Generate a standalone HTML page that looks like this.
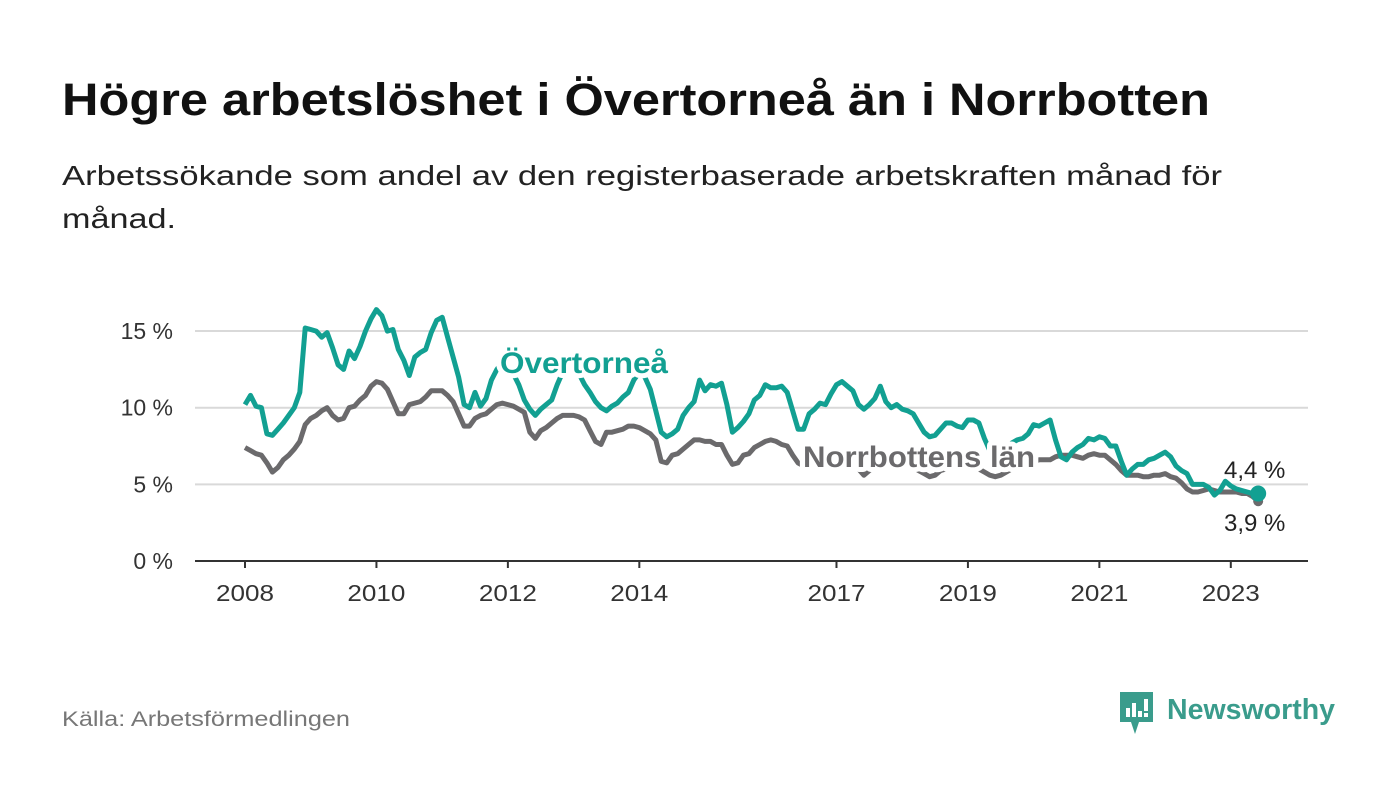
<!DOCTYPE html>
<html><head><meta charset="utf-8"><style>
body{margin:0;background:#fff}
svg text{font-family:"Liberation Sans","DejaVu Sans",sans-serif}
</style></head><body>
<svg id="chart" width="1400" height="794" viewBox="0 0 1400 794" xmlns="http://www.w3.org/2000/svg">
<rect width="1400" height="794" fill="#fff"/>
<text x="62" y="115" font-size="45" font-weight="bold" fill="#111" textLength="1148" lengthAdjust="spacingAndGlyphs">Högre arbetslöshet i Övertorneå än i Norrbotten</text>
<text x="62" y="185" font-size="28" fill="#222" textLength="1160" lengthAdjust="spacingAndGlyphs">Arbetssökande som andel av den registerbaserade arbetskraften månad för</text>
<text x="62" y="228" font-size="28" fill="#222" textLength="114" lengthAdjust="spacingAndGlyphs">månad.</text>
<g id="grid"></g>
<g id="xaxis"></g>
<g id="series"></g>
<g id="labels"></g>
<text x="62" y="726" font-size="21" fill="#777" textLength="288" lengthAdjust="spacingAndGlyphs">Källa: Arbetsförmedlingen</text>
<g>
<path d="M1120 692 h33 v30 h-14 l-4 12 l-4 -12 h-11 z" fill="#3a9c8c"/>
<rect x="1126" y="708" width="4" height="9" fill="#fff"/><rect x="1132" y="703" width="4" height="14" fill="#fff"/><rect x="1138" y="711" width="4" height="6" fill="#fff"/><rect x="1144" y="699" width="4" height="12" fill="#fff"/><rect x="1144" y="713" width="4" height="4" fill="#fff"/>
<text x="1167" y="719" font-size="29" font-weight="bold" fill="#3a9c8c" textLength="168" lengthAdjust="spacingAndGlyphs">Newsworthy</text>
</g>
</svg>
<script>
const years = [2008,2010,2012,2014,2017,2019,2021,2023];
const yTicks = [0,5,10,15];
const tickLabels = ["0 %","5 %","10 %","15 %"];
const overtornea = [
10.2,10.8,10.1,10.0,8.3,8.2,8.6,9.0,9.5,10.0,11.0,15.2,
15.1,15.0,14.6,14.9,13.9,12.8,12.5,13.7,13.2,14.0,15.0,15.8,
16.4,16.0,15.0,15.1,13.8,13.1,12.1,13.3,13.6,13.8,14.9,15.7,
15.9,14.6,13.3,12.0,10.2,10.0,11.0,10.1,10.6,11.8,12.5,13.0,
12.8,12.2,11.5,10.5,9.9,9.5,9.9,10.2,10.5,11.5,12.3,12.8,
12.6,12.2,11.5,11.0,10.4,10.0,9.8,10.1,10.3,10.7,11.0,11.8,
12.3,12.0,11.2,9.8,8.4,8.1,8.3,8.6,9.5,10.0,10.4,11.8,
11.1,11.5,11.4,11.6,10.2,8.4,8.7,9.1,9.6,10.5,10.8,11.5,
11.3,11.3,11.4,11.0,9.8,8.6,8.6,9.6,9.9,10.3,10.2,10.9,
11.5,11.7,11.4,11.1,10.2,9.9,10.2,10.6,11.4,10.4,10.0,10.2,
9.9,9.8,9.6,9.0,8.4,8.1,8.2,8.6,9.0,9.0,8.8,8.7,
9.2,9.2,9.0,8.0,7.2,6.9,7.0,7.3,7.7,7.9,8.0,8.3,
8.9,8.8,9.0,9.2,7.9,6.8,6.6,7.1,7.4,7.6,8.0,7.9,
8.1,8.0,7.5,7.5,6.5,5.6,6.0,6.3,6.3,6.6,6.7,6.9,
7.1,6.8,6.2,5.9,5.7,5.0,5.0,5.0,4.8,4.3,4.6,5.2,
4.9,4.7,4.6,4.5,4.4,4.4];
const norrbotten = [
7.4,7.2,7.0,6.9,6.4,5.8,6.1,6.6,6.9,7.3,7.8,8.9,
9.3,9.5,9.8,10.0,9.5,9.2,9.3,10.0,10.1,10.5,10.8,11.4,
11.7,11.6,11.2,10.4,9.6,9.6,10.2,10.3,10.4,10.7,11.1,11.1,
11.1,10.8,10.4,9.6,8.8,8.8,9.3,9.5,9.6,9.9,10.2,10.3,
10.2,10.1,9.9,9.7,8.4,8.0,8.5,8.7,9.0,9.3,9.5,9.5,
9.5,9.4,9.2,8.5,7.8,7.6,8.4,8.4,8.5,8.6,8.8,8.8,
8.7,8.5,8.3,7.9,6.5,6.4,6.9,7.0,7.3,7.6,7.9,7.9,
7.8,7.8,7.6,7.6,6.9,6.3,6.4,6.9,7.0,7.4,7.6,7.8,
7.9,7.8,7.6,7.5,6.9,6.4,6.2,6.3,6.5,6.7,6.8,6.9,
7.0,7.0,6.8,6.5,6.0,5.6,5.9,6.2,6.3,6.4,6.3,6.4,
6.4,6.3,6.1,5.9,5.7,5.5,5.6,5.9,6.0,6.1,6.1,6.2,
6.2,6.2,6.0,5.8,5.6,5.5,5.6,5.8,6.0,6.2,6.3,6.4,
6.5,6.6,6.6,6.6,6.8,6.9,6.9,6.9,6.8,6.7,6.9,7.0,
6.9,6.9,6.6,6.3,5.9,5.6,5.6,5.6,5.5,5.5,5.6,5.6,
5.7,5.5,5.4,5.1,4.7,4.5,4.5,4.6,4.7,4.6,4.5,4.5,
4.5,4.5,4.4,4.4,4.2,3.9];
const endLabels = ["4,4 %","3,9 %"];

const NS="http://www.w3.org/2000/svg";
const x0=245, pxPerMonth=65.72/12;
const xScale = m => x0 + m*pxPerMonth;
const xYear = y => xScale((y-2008)*12);
const yScale = v => 561 - v*15.33;
function mk(tag, attrs, parent){const e=document.createElementNS(NS,tag);for(const k in attrs)e.setAttribute(k,attrs[k]);parent.appendChild(e);return e;}
const grid=document.getElementById('grid'), xa=document.getElementById('xaxis'), ser=document.getElementById('series'), lab=document.getElementById('labels');
yTicks.forEach((t,i)=>{
  if(t>0){const l=mk('line',{x1:195,x2:1308,y1:yScale(t),y2:yScale(t),stroke:'#d9d9d9','stroke-width':2},grid);
  
  }
  const tx=mk('text',{x:173,y:yScale(t)+8,'text-anchor':'end','font-size':23,fill:'#333'},grid);
  tx.textContent=tickLabels[i];
  
  
});
const ax=mk('line',{x1:195,x2:1308,y1:561,y2:561,stroke:'#333','stroke-width':2},xa);


years.forEach(y=>{
  const tk=mk('line',{x1:xYear(y),x2:xYear(y),y1:561,y2:568,stroke:'#333','stroke-width':2},xa);
  
  
  const t=mk('text',{x:xYear(y),y:601,'text-anchor':'middle','font-size':23,fill:'#333',textLength:58,lengthAdjust:'spacingAndGlyphs'},xa);
  t.textContent=y;
  
  
});
function pts(arr){return arr.map((v,i)=>xScale(i).toFixed(1)+','+yScale(v).toFixed(1)).join(' ');}
const pn=mk('polyline',{points:pts(norrbotten),fill:'none',stroke:'#6b6a6c','stroke-width':5,'stroke-linejoin':'round'},ser);


const ln=norrbotten.length-1;
const dn=mk('circle',{cx:xScale(ln),cy:yScale(norrbotten[ln]),r:5,fill:'#6b6a6c'},ser);


const po=mk('polyline',{points:pts(overtornea),fill:'none',stroke:'#12a092','stroke-width':5,'stroke-linejoin':'round'},ser);


const lo=overtornea.length-1;
const dot=mk('circle',{cx:xScale(lo),cy:yScale(overtornea[lo]),r:8,fill:'#12a092'},ser);


function label(txt,x,y,size,weight,fill,name,halo){
  const t=mk('text',{x:x,y:y,'font-size':size,'font-weight':weight,fill:fill,stroke:'#fff','stroke-width':halo,'paint-order':'stroke','stroke-linejoin':'round'},lab);
  t.textContent=txt;
  
  
  return t;
}
const l1=label('Övertorneå',500,373,30,'bold','#12a092','overtornea-label',10);
l1.setAttribute('textLength','168');
l1.setAttribute('lengthAdjust','spacingAndGlyphs');
const l2=label('Norrbottens län',803,467,30,'bold','#6b6a6c','norrbotten-label',10);
l2.setAttribute('textLength','232');
l2.setAttribute('lengthAdjust','spacingAndGlyphs');
label(endLabels[0],1224,478,24,'normal','#222','overtornea-end-value',5);
label(endLabels[1],1224,531,24,'normal','#222','norrbotten-end-value',5);
</script>
</body></html>
